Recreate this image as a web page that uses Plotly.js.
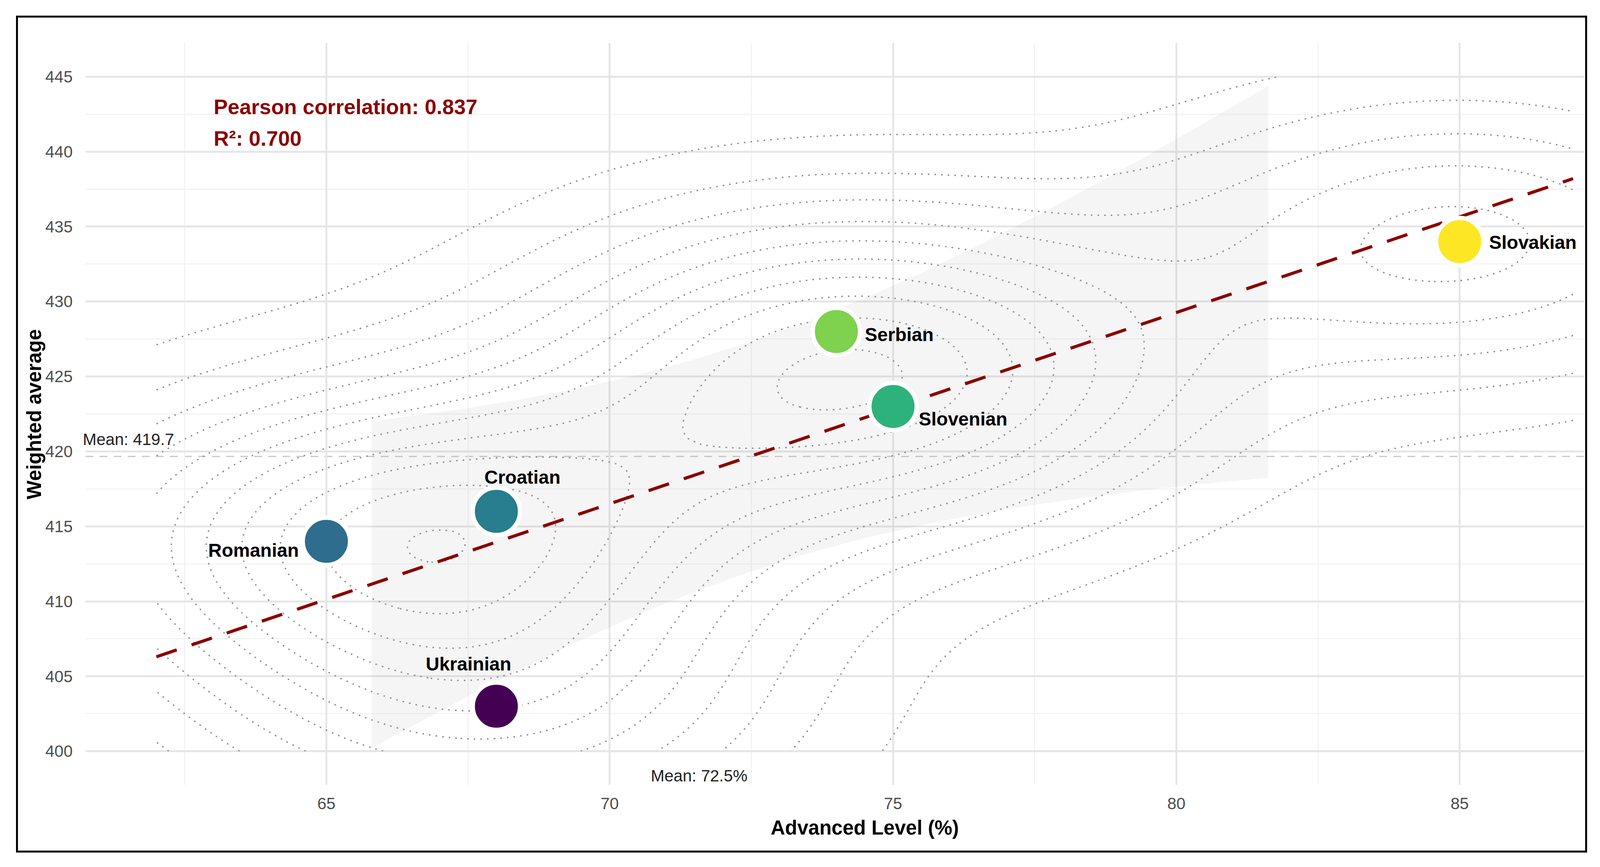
<!DOCTYPE html>
<html>
<head>
<meta charset="utf-8">
<script src="https://cdn.plot.ly/plotly-3.0.1.min.js"></script>
<style>
  html, body { margin: 0; padding: 0; background: #fff; overflow: hidden; }
  #wrap { position: relative; height: 2219px; background: #fff; }
  #chart { position: absolute; left: 0; top: 0; height: 2219px; }
  /* black frame drawn round the figure, as in the original export */
  #frame { position: absolute; top: 40px; height: 2132px; border: 5px solid #000; pointer-events: none; }
</style>
</head>
<body>
<div id="wrap"><div id="chart"></div><div id="frame"></div></div>
<script>
/* Advanced level vs weighted average, by language group. */

const languages   = ["Romanian", "Croatian", "Ukrainian", "Serbian", "Slovenian", "Slovakian"];
const advancedPct = [65, 68, 68, 74, 75, 85];
const weightedAvg = [414, 416, 403, 428, 423, 434];

// linear fit, read at the two ends of the drawn line
const fitX = [62, 87];
const fitY = [406.3, 438.2];

// confidence band of the fit (clipped at 400 / 445)
const bandX  = [65.8, 66.5, 67.5, 68.5, 69.5, 70.5, 71.5, 72.5, 73.5, 74.5, 75.5, 76.5, 77.5, 78.5, 79.5, 80.5, 81.62];
const bandLo = [400.2, 401.65, 403.67, 405.6, 407.42, 409.11, 410.64, 412.01, 413.2, 414.22, 415.08, 415.82, 416.44, 416.98, 417.44, 417.85, 418.25];
const bandHi = [422.02, 422.36, 422.89, 423.52, 424.25, 425.12, 426.14, 427.33, 428.69, 430.23, 431.91, 433.73, 435.66, 437.68, 439.77, 441.92, 444.38];

const FONT = "Liberation Sans, Arial, Helvetica, sans-serif";
const DARK_RED = "#8b0000";

// the figure was laid out 4298px wide; horizontal pixel offsets follow the real viewport
const W = window.innerWidth || 4298;
const H = 2219;
const SX = W / 4298;

// label placement round each point (px, at 4298 wide)
const LABEL_POS = {
  Romanian:  { xanchor: "right",  dx: -72, dy: -23 },
  Croatian:  { xanchor: "center", dx: 70,  dy: 87 },
  Ukrainian: { xanchor: "center", dx: -75, dy: 108 },
  Serbian:   { xanchor: "left",   dx: 74,  dy: -8 },
  Slovenian: { xanchor: "left",   dx: 67,  dy: -32 },
  Slovakian: { xanchor: "left",   dx: 77,  dy: -2 },
};

function mean(v) { return v.reduce((a, b) => a + b, 0) / v.length; }

function quantile7(v, p) {
  const s = [...v].sort((a, b) => a - b);
  const h = (s.length - 1) * p;
  const lo = Math.floor(h);
  const hi = Math.min(lo + 1, s.length - 1);
  return s[lo] + (h - lo) * (s[hi] - s[lo]);
}

// MASS::bandwidth.nrd
function bandwidthNrd(v) {
  const m = mean(v);
  const sd = Math.sqrt(v.reduce((a, b) => a + (b - m) ** 2, 0) / (v.length - 1));
  const iqr = (quantile7(v, 0.75) - quantile7(v, 0.25)) / 1.34;
  return 4 * 1.06 * Math.min(sd, iqr) * Math.pow(v.length, -0.2);
}

// MASS::kde2d on a n x n grid, as stat_density_2d does
function kde2d(xs, ys, n, xlim, ylim) {
  const hx = bandwidthNrd(xs) / 4, hy = bandwidthNrd(ys) / 4;
  const gx = [], gy = [];
  for (let i = 0; i < n; i++) {
    gx.push(xlim[0] + (xlim[1] - xlim[0]) * i / (n - 1));
    gy.push(ylim[0] + (ylim[1] - ylim[0]) * i / (n - 1));
  }
  const phi = (u) => Math.exp(-0.5 * u * u) / Math.sqrt(2 * Math.PI);
  const z = gy.map((yv) => gx.map((xv) => {
    let s = 0;
    for (let k = 0; k < xs.length; k++) s += phi((xv - xs[k]) / hx) * phi((yv - ys[k]) / hy);
    return s / (xs.length * hx * hy);
  }));
  return { x: gx, y: gy, z };
}

// step of R's pretty(c(0, zmax), 10)
function prettyStep(zmax) {
  const cell = zmax / 10;
  const U = Math.pow(10, Math.floor(Math.log10(cell)));
  let unit = U;
  if (2 * U - cell < 1.5 * (cell - unit)) {
    unit = 2 * U;
    if (5 * U - cell < 2.75 * (cell - unit)) {
      unit = 5 * U;
      if (10 * U - cell < 1.5 * (cell - unit)) unit = 10 * U;
    }
  }
  return unit;
}

const dens = kde2d(advancedPct, weightedAvg, 100, [62, 87], [400, 445]);
const zmax = Math.max(...dens.z.map((r) => Math.max(...r)));
const step = prettyStep(zmax);

const meanX = mean(advancedPct);
const meanY = mean(weightedAvg);

// Pearson r
const sxy = advancedPct.reduce((a, x, i) => a + (x - meanX) * (weightedAvg[i] - meanY), 0);
const sxx = advancedPct.reduce((a, x) => a + (x - meanX) ** 2, 0);
const syy = weightedAvg.reduce((a, y) => a + (y - meanY) ** 2, 0);
const r = sxy / Math.sqrt(sxx * syy);

const traces = [
  {
    type: "contour",
    x: dens.x, y: dens.y, z: dens.z,
    contours: { coloring: "none", start: step, end: zmax, size: step },
    line: { color: "#8f8f8f", width: 3.5, dash: "4px,13px", smoothing: 1 },
    showscale: false, hoverinfo: "skip", showlegend: false,
  },
  {
    type: "scatter", mode: "lines",
    x: bandX.concat([...bandX].reverse()),
    y: bandHi.concat([...bandLo].reverse()),
    fill: "toself", fillcolor: "rgba(160,160,160,0.1)",
    line: { width: 0, color: "rgba(0,0,0,0)" },
    hoverinfo: "skip", showlegend: false,
  },
  {
    type: "scatter", mode: "lines",
    x: fitX, y: fitY,
    line: { color: DARK_RED, width: 8, dash: "55px,40px" },
    hoverinfo: "skip", showlegend: false,
  },
  {
    type: "scatter", mode: "markers",
    x: advancedPct, y: weightedAvg, text: languages,
    marker: {
      size: 121, color: weightedAvg, colorscale: "Viridis", showscale: false,
      line: { color: "#ffffff", width: 11 }, opacity: 1,
    },
    hoverinfo: "text", showlegend: false,
  },
];

const annotations = languages.map((name, i) => {
  const p = LABEL_POS[name];
  return {
    x: advancedPct[i], y: weightedAvg[i], text: `<b>${name}</b>`,
    showarrow: false, xanchor: p.xanchor, yanchor: "middle",
    xshift: p.dx * SX, yshift: p.dy,
    font: { family: FONT, size: 48, color: "#000" },
  };
});

annotations.push(
  {
    x: 63, y: 443.0, text: `<b>Pearson correlation: ${r.toFixed(3)}</b>`,
    showarrow: false, xanchor: "left", yanchor: "middle",
    font: { family: FONT, size: 54, color: DARK_RED },
  },
  {
    x: 63, y: 440.9, text: `<b>R²: ${(r * r).toFixed(3)}</b>`,
    showarrow: false, xanchor: "left", yanchor: "middle",
    font: { family: FONT, size: 54, color: DARK_RED },
  },
  {
    xref: "paper", x: 0, y: meanY, text: `Mean: ${meanY.toFixed(1)}`,
    showarrow: false, xanchor: "left", yanchor: "bottom", xshift: -9 * SX, yshift: 18,
    font: { family: FONT, size: 42, color: "#222" },
  },
  {
    x: meanX, yref: "paper", y: 0, text: `Mean: ${meanX.toFixed(1)}%`,
    showarrow: false, xanchor: "right", yanchor: "middle", xshift: -8 * SX, yshift: 24,
    font: { family: FONT, size: 42, color: "#222" },
  },
  // axis titles
  {
    x: 74.5, yref: "paper", y: 0, text: "<b>Advanced Level (%)</b>",
    showarrow: false, xanchor: "center", yanchor: "middle", yshift: -109,
    font: { family: FONT, size: 51, color: "#000" },
  },
  {
    xref: "paper", x: 0, yref: "paper", y: 0.5, text: "<b>Weighted average</b>",
    showarrow: false, textangle: -90, xanchor: "center", yanchor: "middle", xshift: -138 * SX,
    font: { family: FONT, size: 51, color: "#000" },
  },
);

const shapes = [
  {
    type: "line", layer: "between", xref: "paper", x0: 0, x1: 1, y0: meanY, y1: meanY,
    line: { color: "#c8c8c8", width: 3, dash: "20px,16px" },
  },
  {
    type: "line", layer: "between", yref: "paper", y0: 0, y1: 1, x0: meanX, x1: meanX,
    line: { color: "#b4b4b4", width: 3, dash: "20px,16px" },
  },
];

const layout = {
  width: W, height: H,
  margin: { l: 230 * SX, r: 42 * SX, t: 110, b: 210 },
  paper_bgcolor: "rgba(0,0,0,0)", plot_bgcolor: "#fff",
  font: { family: FONT, size: 42, color: "#4d4d4d" },
  showlegend: false, hovermode: false,
  xaxis: {
    range: [60.75, 87.2], tick0: 0, dtick: 5, ticks: "", ticklabelstandoff: 19,
    showgrid: true, gridcolor: "#e6e6e6", gridwidth: 5, zeroline: false, showline: false,
    minor: { dtick: 2.5, showgrid: true, gridcolor: "#f3f3f3", gridwidth: 3 },
    tickfont: { family: FONT, size: 42, color: "#4d4d4d" },
  },
  yaxis: {
    range: [397.75, 447.25], tick0: 0, dtick: 5, ticks: "", ticklabelstandoff: 32,
    showgrid: true, gridcolor: "#e6e6e6", gridwidth: 5, zeroline: false, showline: false,
    minor: { dtick: 2.5, showgrid: true, gridcolor: "#f3f3f3", gridwidth: 3 },
    tickfont: { family: FONT, size: 42, color: "#4d4d4d" },
  },
  annotations, shapes,
};

// size the page and the frame to the viewport
const wrap = document.getElementById("wrap");
wrap.style.width = W + "px";
document.getElementById("chart").style.width = W + "px";
const frame = document.getElementById("frame");
frame.style.left = Math.round(43 * SX) + "px";
frame.style.width = Math.round((4263 - 43) * SX) - 10 + "px";

Plotly.newPlot("chart", traces, layout, { displayModeBar: false, staticPlot: true });
</script>
</body>
</html>
